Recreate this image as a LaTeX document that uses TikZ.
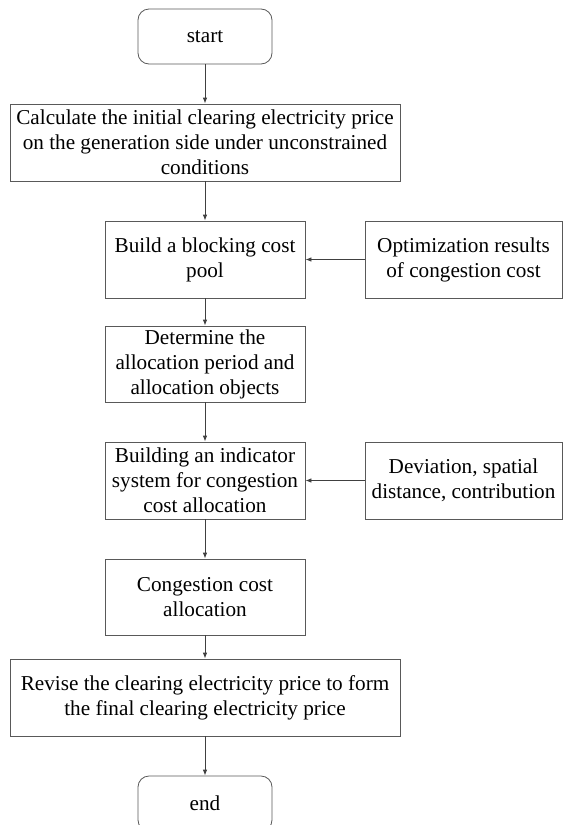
\documentclass[tikz,border=0pt]{standalone}
\usepackage{fontspec}
\setmainfont{Liberation Serif}
\usetikzlibrary{arrows.meta}
\begin{document}
\begin{tikzpicture}[x=1pt,y=-1pt,
  line width=0.8pt,
  every node/.style={font=\fontsize{21.2}{25}\selectfont, align=center, inner sep=0pt},
  procbox/.style={draw=black!65, minimum width=200pt, minimum height=77pt},
  widebox/.style={procbox, minimum width=390pt},
  sidebox/.style={procbox, minimum width=197pt},
  termbox/.style={draw=black!65, rounded corners=11pt, minimum width=134pt, minimum height=55pt},
  flow/.style={draw=black!75, -{Latex[length=6pt,width=4.5pt]}}]
\useasboundingbox (0,0) rectangle (563,825);
\node[termbox] (start) at (205,36.5){start};
\node[widebox] (calc) at (205,142.5){Calculate the initial clearing electricity price\\on the generation side under unconstrained\\conditions};
\node[procbox] (pool) at (205,259.5){Build a blocking cost\\pool};
\node[sidebox] (optres) at (463.5,259.5){Optimization results\\of congestion cost};
\node[procbox, minimum height=76pt] (period) at (205,364){Determine the\\allocation period and\\allocation objects};
\node[procbox] (index) at (205,480.5){Building an indicator\\system for congestion\\cost allocation};
\node[sidebox] (factor) at (463.5,480.5){Deviation, spatial\\distance, contribution};
\node[procbox, minimum height=76pt] (alloc) at (205,597){Congestion cost\\allocation};
\node[widebox] (revise) at (205,697.5){Revise the clearing electricity price to form\\the final clearing electricity price};
\node[termbox] (stop) at (205,803.5){end};
\draw[flow](start) -- (calc);
\draw[flow](calc) -- (pool);
\draw[flow](optres) -- (pool);
\draw[flow](pool) -- (period);
\draw[flow](period) -- (index);
\draw[flow](factor) -- (index);
\draw[flow](index) -- (alloc);
\draw[flow](alloc) -- (revise);
\draw[flow](revise) -- (stop);
\end{tikzpicture}
\end{document}
